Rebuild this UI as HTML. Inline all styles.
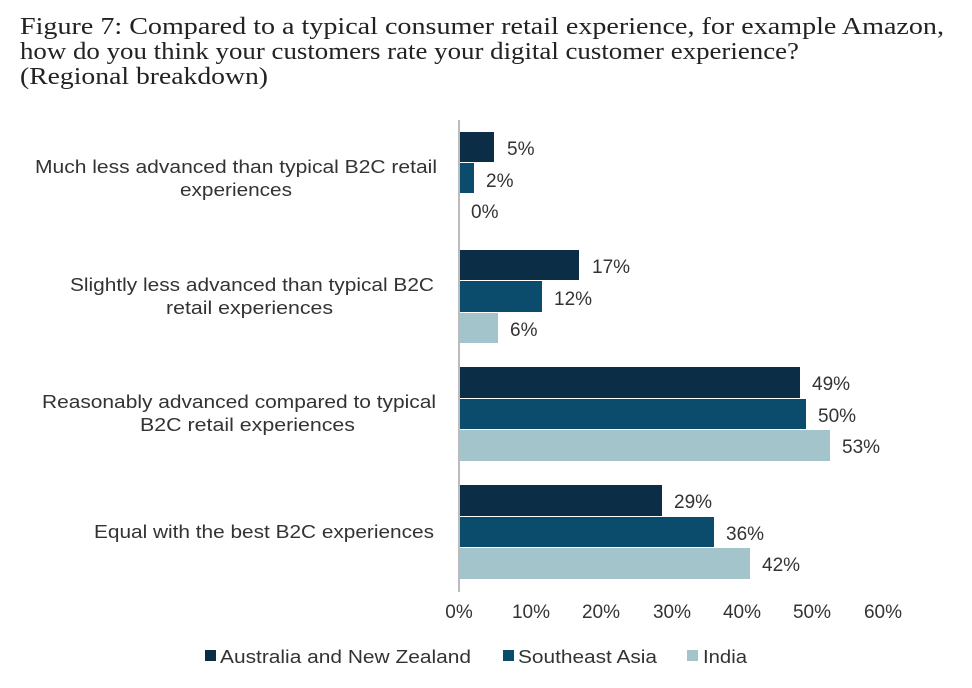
<!DOCTYPE html>
<html><head><style>body{margin:0;background:#fff}svg{display:block}</style></head><body>
<svg width="972" height="688" xmlns="http://www.w3.org/2000/svg">
<g font-family="Liberation Serif, serif" font-size="24" fill="#222">
<text x="20" y="34" textLength="924" lengthAdjust="spacingAndGlyphs">Figure 7: Compared to a typical consumer retail experience, for example Amazon,</text>
<text x="20" y="59" textLength="779" lengthAdjust="spacingAndGlyphs">how do you think your customers rate your digital customer experience?</text>
<text x="20" y="84" textLength="248" lengthAdjust="spacingAndGlyphs">(Regional breakdown)</text>
</g>
<g>
<rect x="459" y="132" width="35" height="30" fill="#0b2d45"/>
<rect x="459" y="163" width="15" height="30" fill="#0b4b6c"/>
<rect x="459" y="250" width="120" height="30" fill="#0b2d45"/>
<rect x="459" y="281" width="83" height="31" fill="#0b4b6c"/>
<rect x="459" y="313" width="39" height="30" fill="#a2c4ca"/>
<rect x="459" y="367" width="341" height="31" fill="#0b2d45"/>
<rect x="459" y="399" width="347" height="30" fill="#0b4b6c"/>
<rect x="459" y="430" width="371" height="31" fill="#a2c4ca"/>
<rect x="459" y="485" width="203" height="31" fill="#0b2d45"/>
<rect x="459" y="517" width="255" height="30" fill="#0b4b6c"/>
<rect x="459" y="548" width="291" height="31" fill="#a2c4ca"/>
</g>
<line x1="459" y1="120" x2="459" y2="592" stroke="#bbb" stroke-width="2"/>
<g font-family="Liberation Sans, sans-serif" font-size="18" fill="#333">
<g font-size="19">
<text x="507" y="155">5%</text><text x="486" y="187">2%</text><text x="471" y="218">0%</text>
<text x="592" y="273">17%</text><text x="554" y="305">12%</text><text x="510" y="336">6%</text>
<text x="812" y="390">49%</text><text x="818" y="422">50%</text><text x="842" y="453">53%</text>
<text x="674" y="508">29%</text><text x="726" y="540">36%</text><text x="762" y="571">42%</text>
</g>
<g text-anchor="middle" font-size="19">
<text x="459" y="618">0%</text><text x="531" y="618">10%</text><text x="601" y="618">20%</text><text x="672" y="618">30%</text><text x="742" y="618">40%</text><text x="812" y="618">50%</text><text x="883" y="618">60%</text>
</g>
<text x="35" y="173" textLength="402" lengthAdjust="spacingAndGlyphs">Much less advanced than typical B2C retail</text>
<text x="180" y="196" textLength="112" lengthAdjust="spacingAndGlyphs">experiences</text>
<text x="70" y="291" textLength="364" lengthAdjust="spacingAndGlyphs">Slightly less advanced than typical B2C</text>
<text x="166" y="314" textLength="167" lengthAdjust="spacingAndGlyphs">retail experiences</text>
<text x="42" y="408" textLength="394" lengthAdjust="spacingAndGlyphs">Reasonably advanced compared to typical</text>
<text x="140" y="431" textLength="215" lengthAdjust="spacingAndGlyphs">B2C retail experiences</text>
<text x="94" y="538" textLength="340" lengthAdjust="spacingAndGlyphs">Equal with the best B2C experiences</text>
<rect x="205" y="650" width="11" height="11" fill="#0b2d45"/>
<text x="220" y="663" textLength="251" lengthAdjust="spacingAndGlyphs">Australia and New Zealand</text>
<rect x="503" y="650" width="11" height="11" fill="#0b4b6c"/>
<text x="518" y="663" textLength="139" lengthAdjust="spacingAndGlyphs">Southeast Asia</text>
<rect x="687" y="650" width="11" height="11" fill="#a2c4ca"/>
<text x="703" y="663" textLength="44" lengthAdjust="spacingAndGlyphs">India</text>
</g>
</svg>
</body></html>
